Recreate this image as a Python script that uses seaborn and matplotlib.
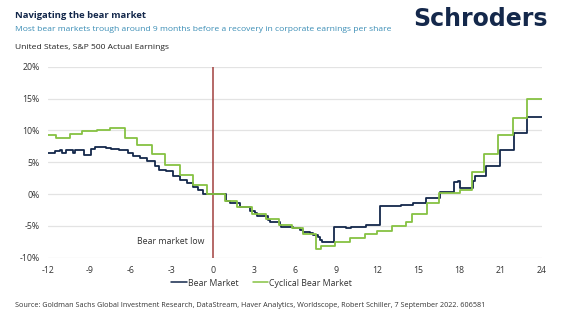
import numpy as np
import pandas as pd
import matplotlib
matplotlib.use("Agg")
import matplotlib.pyplot as plt
import seaborn as sns
from matplotlib.lines import Line2D

# Months relative to the bear market low, with the earnings change (%) that holds from that month on
bear_months = [-12.0, -11.5, -11.15, -11.0, -10.7, -10.2, -10.0, -9.4, -8.9, -8.6, -7.75, -7.4,
               -6.8, -6.2, -5.8, -5.3, -4.8, -4.2, -3.9, -3.4, -2.9, -2.4, -1.9, -1.44, -1.07,
               -0.7, 0.95, 1.24, 1.97, 2.7, 3.06, 3.2, 4.0, 4.15, 4.9, 5.0, 5.85, 6.34, 6.58,
               7.07, 7.3, 7.68, 7.8, 8.0, 8.84, 9.74, 10.1, 11.15, 12.22, 13.75, 14.6, 15.57,
               16.55, 17.57, 17.9, 18.0, 18.97, 19.1, 19.9, 20.97, 21.94, 22.94, 24.0]
bear_values = [6.5, 6.7, 6.86, 6.45, 6.97, 6.45, 6.86, 6.2, 7.07, 7.33, 7.23, 7.07,
               6.86, 6.45, 5.9, 5.65, 5.13, 4.34, 3.82, 3.55, 2.77, 2.25, 1.73, 1.1, 0.68,
               0.0, -1.16, -1.42, -2.1, -2.73, -3.0, -3.5, -4.04, -4.4, -4.83, -5.2, -5.35, -5.6, -5.9,
               -6.1, -6.5, -6.8, -7.2, -7.6, -5.25, -5.35, -5.25, -4.83, -1.95, -1.8, -1.42, -0.63,
               0.25, 1.82, 2.09, 0.94, 1.98, 2.77, 4.34, 6.86, 9.6, 12.15, 12.15]

cyclical_months = [-12.0, -11.4, -10.4, -9.5, -8.45, -7.5, -6.4, -5.5, -4.45, -3.5, -2.4, -1.46,
                   -0.44, 0.87, 1.8, 2.9, 3.9, 4.8, 5.8, 6.6, 7.5, 7.9, 8.9, 10.0, 11.1, 12.0,
                   13.1, 14.1, 14.5, 15.6, 16.5, 18.0, 18.9, 19.8, 20.8, 21.9, 22.9, 24.0]
cyclical_values = [9.2, 8.8, 9.5, 9.85, 10.05, 10.3, 8.8, 7.65, 6.3, 4.6, 3.0, 1.35,
                   0.0, -1.1, -2.1, -3.2, -4.0, -4.8, -5.4, -6.3, -8.6, -8.1, -7.6, -6.9, -6.3, -5.8,
                   -5.1, -4.4, -3.15, -1.4, 0.15, 0.7, 3.4, 6.3, 9.2, 11.95, 14.9, 14.9]

x_ticks = [-12, -9, -6, -3, 0, 3, 6, 9, 12, 15, 18, 21, 24]
y_ticks = [-10, -5, 0, 5, 10, 15, 20]

series_names = ["Bear Market", "Cyclical Bear Market"]
series_colors = ["#14284b", "#86c242"]

df = pd.concat([
    pd.DataFrame({"month": bear_months, "change": bear_values, "series": series_names[0]}),
    pd.DataFrame({"month": cyclical_months, "change": cyclical_values, "series": series_names[1]}),
], ignore_index=True)

sns.set_theme(style="white")
plt.rcParams["font.family"] = ["Open Sans", "DejaVu Sans"]

fig = plt.figure(figsize=(5.69, 3.22), dpi=100)
ax = fig.add_axes([0.0844, 0.1997, 0.8681, 0.5932])

# Horizontal guide lines
for yv in y_ticks:
    ax.axhline(yv, color="#e3e3e3", lw=0.9, zorder=0)

# Bear market low marker
ax.axvline(0, color="#a2403e", lw=1.1, zorder=1)

sns.lineplot(data=df, x="month", y="change", hue="series", hue_order=series_names,
             palette=series_colors, drawstyle="steps-post", linewidth=1.3,
             estimator=None, ax=ax, legend=False, zorder=3)

ax.set_xlim(-12, 24)
ax.set_ylim(-10, 20)
ax.set_xticks(x_ticks)
ax.set_xticklabels([str(t) for t in x_ticks])
ax.set_yticks(y_ticks)
ax.set_yticklabels([f"{t}%" for t in y_ticks])
ax.tick_params(axis="both", labelsize=6.3, colors="#333333", length=0, pad=6)
ax.set_xlabel("")
ax.set_ylabel("")
for s in ax.spines.values():
    s.set_visible(False)

ax.text(-0.6, -7.5, "Bear market low", ha="right", va="center", fontsize=6.3, color="#333333")

# Legend below the axes
handles = [Line2D([0], [0], color=c, lw=1.1) for c in series_colors]
fig.legend(handles, series_names, loc="center", bbox_to_anchor=(0.46, 0.121), ncol=2,
           frameon=False, fontsize=6.3, handlelength=1.8, handletextpad=0.1,
           columnspacing=1.6, labelcolor="#333333")

# Header texts
fig.text(0.027, 0.965, "Navigating the bear market", ha="left", va="top",
         fontsize=6.8, fontweight="bold", color="#14284b")
fig.text(0.027, 0.918, "Most bear markets trough around 9 months before a recovery in corporate earnings per share",
         ha="left", va="top", fontsize=6.1, color="#3a8db5")
fig.text(0.963, 0.978, "Schroders", ha="right", va="top", fontsize=17,
         fontweight="bold", color="#14284b", family="DejaVu Sans")
fig.text(0.027, 0.862, "United States, S&P 500 Actual Earnings", ha="left", va="top",
         fontsize=6.1, color="#222222")
fig.text(0.027, 0.05, "Source: Goldman Sachs Global Investment Research, DataStream, Haver Analytics, "
         "Worldscope, Robert Schiller, 7 September 2022. 606581", ha="left", va="center",
         fontsize=5.2, color="#333333")

fig.savefig("out.png", dpi=100)
